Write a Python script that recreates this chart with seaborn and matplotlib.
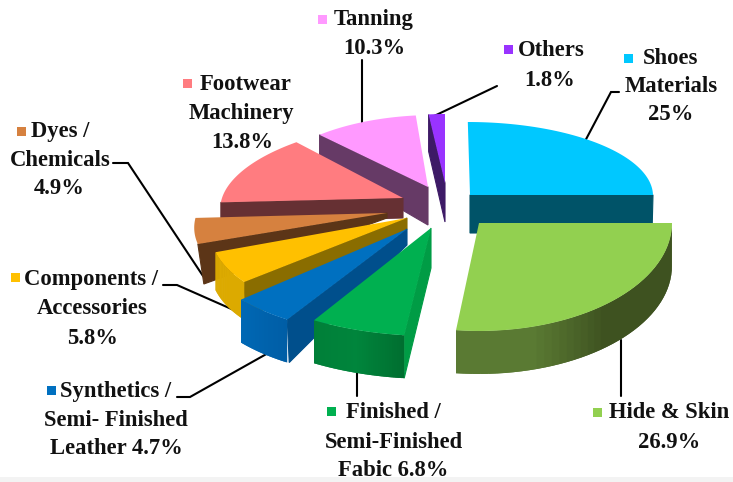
import numpy as np
import matplotlib
matplotlib.use("Agg")
import matplotlib.pyplot as plt
from matplotlib.patches import Polygon, Rectangle
from matplotlib.colors import LinearSegmentedColormap
import seaborn as sns

categories = ["Shoes Materials", "Hide & Skin", "Finished / Semi-Finished Fabic",
              "Synthetics / Semi- Finished Leather", "Components / Accessories",
              "Dyes / Chemicals", "Footwear Machinery", "Tanning", "Others"]
values = [25, 26.9, 6.8, 4.7, 5.8, 4.9, 13.8, 10.3, 1.8]

top_colors = ["#00c8ff", "#92d050", "#00b050", "#0070c0", "#ffc000",
              "#d6813f", "#ff7c80", "#ff99ff", "#9933ff"]
side_colors = ["#005368", None, "#009c45", "#004f8c", "#8a6d00",
               "#5c3517", "#663033", "#663a66", "#3d1a66"]
front_colors = [None, ["#3e5220", "#3e5220", "#3e5220", "#5a7a33", "#5a7a33"],
                ["#006f30", "#00853c", "#007f38"], ["#005ea6", "#0068b5"],
                ["#dcaa00", "#dcaa00"], None, None, None, None]

# one geometry per slice: apex x, apex y, radius x, radius y, shear
geom = [(470, 195, 183, 73, 0.03), (479, 223, 193, 108, 0), (431, 228, 225, 108, 0),
        (407, 229, 213, 106, -0.10), (407, 218, 195, 96, -0.27), (387, 213, 190, 87, -0.375),
        (403, 198, 181, 77, -0.325), (428, 187, 164, 72, -0.088), (445, 183, 145, 69, 0)]
# radial wall: edge, near depth, apex depth, near dx
walls = [("end", 38, 38, -1), None, ("start", 43, 40, 0), ("start", 43, 16, 2),
         ("start", 38, 11, 1), ("start", 40, 5, 6), ("start", 20, 20, 0),
         ("start", 27, 38, 0), ("start", 37, 39, 0)]
front_depth = [0, 43, 43, 43, 38, 0, 0, 0, 0]
draw_order = [8, 0, 7, 6, 5, 4, 3, 2, 1]

labels = [
    (["Tanning", "10.3%"], [(374, 20), (374, 48)]),
    (["Others", "1.8%"], [(551, 50), (550, 80)]),
    (["Shoes", "Materials", "25%"], [(671, 58), (671, 87), (671, 115)]),
    (["Footwear", "Machinery", "13.8%"], [(246, 85), (241, 113), (242, 143)]),
    (["Dyes /", "Chemicals", "4.9%"], [(60, 132), (60, 160), (59, 188)]),
    (["Components /", "Accessories", "5.8%"], [(91, 279), (92, 309), (92, 338)]),
    (["Synthetics /", "Semi- Finished", "Leather 4.7%"], [(116, 391), (116, 420), (116, 449)]),
    (["Finished /", "Semi-Finished", "Fabic 6.8%"], [(393, 413), (394, 442), (393, 470)]),
    (["Hide & Skin", "26.9%"], [(669, 413), (669, 442)]),
]
markers = [("#ff99ff", 322, 19), ("#9933ff", 508, 49), ("#00c8ff", 628, 58),
           ("#ff7c80", 187, 83), ("#d6813f", 21, 131), ("#ffc000", 15, 277),
           ("#0070c0", 51, 390), ("#00b050", 331, 411), ("#92d050", 597, 412)]
leaders = [
    [(583, 145), (611, 92), (619, 92)],
    [(621, 340), (621, 396)],
    [(357, 370), (357, 396)],
    [(270, 352), (190, 397), (177, 397)],
    [(236, 311), (177, 285), (163, 285)],
    [(203, 276), (128, 163), (113, 163)],
    [(362, 60), (362, 125)],
    [(432, 117), (497, 86)],
]

sns.set_theme(style="white")
plt.rcParams["font.family"] = ["Liberation Serif", "DejaVu Serif"]
fig, ax = plt.subplots(figsize=(7.33, 4.82), dpi=100)
ax.set_position([0, 0, 1, 1])
ax.set_xlim(0, 733)
ax.set_ylim(482, 0)
ax.axis("off")

ax.add_patch(Rectangle((0, 477), 733, 5, fc="#f3f3f3", ec="none", zorder=0))

edges = np.concatenate([[0], np.cumsum(values)]) / np.sum(values) * 360


def point(i, deg):
    cx, cy, rx, ry, k = geom[i]
    a = np.radians(deg)
    dy = -ry * np.cos(a)
    return cx + rx * np.sin(a) + k * dy, cy + dy


for line in leaders:
    xs, ys = zip(*line)
    ax.plot(xs, ys, color="black", lw=1.5, zorder=1, solid_joinstyle="miter")

z = 2
for i in draw_order:
    start, end = edges[i], edges[i + 1]
    cx, cy = geom[i][:2]
    wall = walls[i]
    if wall is not None:
        edge, near, apex, dx = wall
        px, py = point(i, start if edge == "start" else end)
        ax.add_patch(Polygon([(cx, cy), (px, py), (px + dx, py + near), (cx, cy + apex)],
                             closed=True, fc=side_colors[i], ec=side_colors[i], lw=0.8, zorder=z))
        z += 1
    if front_depth[i]:
        cmap = LinearSegmentedColormap.from_list("f", front_colors[i])
        lo = max(start, 90)
        grid = np.linspace(lo, end, 41)
        # each band runs on under the next one, so that no seam shows
        for a, b in zip(grid[:-1], np.r_[grid[2:], end]):
            p, q = point(i, a), point(i, b)
            col = cmap((a - lo) / (end - lo))
            ax.add_patch(Polygon([p, q, (q[0], q[1] + front_depth[i]), (p[0], p[1] + front_depth[i])],
                                 closed=True, fc=col, ec="none", zorder=z))
        z += 1
    arc = [point(i, a) for a in np.linspace(start, end, 60)]
    ax.add_patch(Polygon([(cx, cy)] + arc, closed=True, fc=top_colors[i], ec="none", zorder=z))
    z += 1

for lines, pos in labels:
    for s, (x, y) in zip(lines, pos):
        ax.text(x, y, s, ha="center", va="center", fontsize=16.3, fontweight="bold",
                color="#111111", zorder=50)

for col, x, y in markers:
    ax.add_patch(Rectangle((x - 4.5, y - 4.5), 9, 9, fc=col, ec="none", zorder=50))

fig.savefig("out.png", dpi=100)
